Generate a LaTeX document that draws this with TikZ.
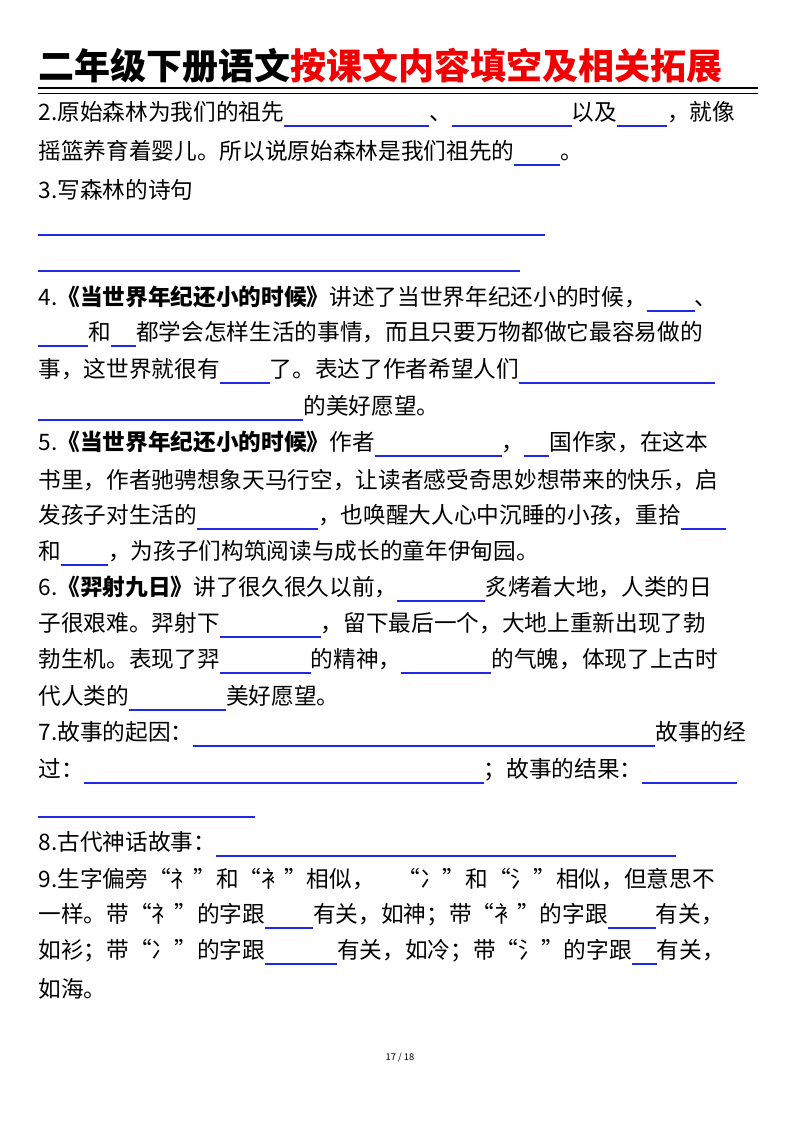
\documentclass[tikz,border=0pt]{standalone}
\usepackage{fontspec}
\setmainfont{Noto Sans CJK SC}
\definecolor{blankblue}{RGB}{30,40,230}
\definecolor{titlered}{RGB}{240,0,0}
\newcommand{\bl}[1]{\textcolor{blankblue}{\rule[-5pt]{#1\dimexpr0.75pt\relax}{1.2pt}}}
\tikzset{every picture/.style={line width=0.75pt}}
\tikzset{row/.style={anchor=west,inner sep=0pt,font=\fontsize{17}{19}\selectfont}}

\begin{document}
\begin{tikzpicture}[x=0.75pt,y=0.75pt,yscale=-1]
%set diagram to page size
\fill[white] (0,0) rectangle (800,1132);

% Title
\node (title) [anchor=west,inner sep=0pt,font=\fontsize{27}{30}\selectfont\bfseries] at (38,66) {二年级下册语文\textcolor{titlered}{按课文内容填空及相关拓展}};
%Straight Lines
\draw [line width=2.2pt] (38,88) -- (758,88) ;
\draw [line width=0.8pt] (38,93.5) -- (758,93.5) ;

% Text Node
\node (q2a) [row] at (38,114) {2.原始森林为我们的祖先\bl{145}、\bl{120}以及\bl{50}，就像};
\node (q2b) [row] at (38,153) {摇篮养育着婴儿。所以说原始森林是我们祖先的\bl{46}。};
\node (q3) [row] at (38,190) {3.写森林的诗句};
%Straight Lines
\draw [blankblue, line width=1.2pt] (38,235) -- (545,235) ;
\draw [blankblue, line width=1.2pt] (38,271) -- (520,271) ;

% Text Node
\node (q4a) [row] at (38,299) {4.{\bfseries《当世界年纪还小的时候》}讲述了当世界年纪还小的时候，\bl{48}、};
\node (q4b) [row] at (38,334) {\bl{50}和\bl{25}都学会怎样生活的事情，而且只要万物都做它最容易做的};
\node (q4c) [row] at (38,371) {事，这世界就很有\bl{50}了。表达了作者希望人们\bl{196}};
\node (q4d) [row] at (38,408) {\bl{265}的美好愿望。};
\node (q5a) [row] at (38,444) {5.{\bfseries《当世界年纪还小的时候》}作者\bl{127}，\bl{25}国作家，在这本};
\node (q5b) [row] at (38,480) {书里，作者驰骋想象天马行空，让读者感受奇思妙想带来的快乐，启};
\node (q5c) [row] at (38,517) {发孩子对生活的\bl{121}，也唤醒大人心中沉睡的小孩，重拾\bl{45}};
\node (q5d) [row] at (38,553) {和\bl{47}，为孩子们构筑阅读与成长的童年伊甸园。};
\node (q6a) [row] at (38,589) {6.{\bfseries《羿射九日》}讲了很久很久以前，\bl{88}炙烤着大地，人类的日};
\node (q6b) [row] at (38,625) {子很艰难。羿射下\bl{101}，留下最后一个，大地上重新出现了勃};
\node (q6c) [row] at (38,661) {勃生机。表现了羿\bl{91}的精神，\bl{90}的气魄，体现了上古时};
\node (q6d) [row] at (38,698) {代人类的\bl{97}美好愿望。};
\node (q7a) [row] at (38,734) {7.故事的起因：\bl{462}故事的经};
\node (q7b) [row] at (38,771) {过：\bl{400}；故事的结果：\bl{95}};
%Straight Lines
\draw [blankblue, line width=1.2pt] (38,817) -- (255,817) ;
% Text Node
\node (q8) [row] at (38,844) {8.古代神话故事：\bl{460}};
\node (q9a) [row] at (38,879) {9.生字偏旁“礻”和“衤”相似，\quad“冫”和“氵”相似，但意思不};
\node (q9b) [row] at (38,916) {一样。带“礻”的字跟\bl{48}有关，如神；带“衤”的字跟\bl{48}有关，};
\node (q9c) [row] at (38,952) {如衫；带“冫”的字跟\bl{72}有关，如冷；带“氵”的字跟\bl{25}有关，};
\node (q9d) [row] at (38,989) {如海。};

% Text Node
\node (page) [inner sep=0pt,font=\fontsize{7}{8}\selectfont] at (400,1058) {17 / 18};
\end{tikzpicture}
\end{document}
